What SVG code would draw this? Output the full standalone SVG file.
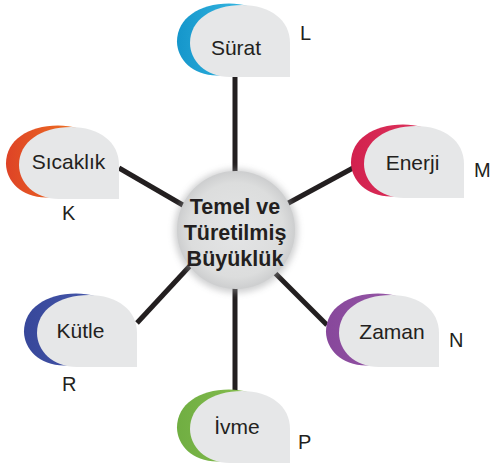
<svg xmlns="http://www.w3.org/2000/svg" width="491" height="469" viewBox="0 0 491 469">
<defs>
<style>
.conn{stroke:#231f20;stroke-width:5;fill:none}
.body{fill:#e6e7e8}
.lbl{font-family:"Liberation Sans",Arial,sans-serif;font-size:21px;fill:#231f20;text-anchor:middle}
.let{font-family:"Liberation Sans",Arial,sans-serif;font-size:20px;fill:#231f20}
.ctr{font-family:"Liberation Sans",Arial,sans-serif;font-size:21.5px;font-weight:bold;fill:#231f20;text-anchor:middle}
</style>
<path id="leaf" d="M100,72 L40,72 C15,72 0,55 0,38 C0,15 22,0 52,0 C80,0 100,15 100,38 Z"/>
<linearGradient id="gCyan" x1="0" y1="0" x2="1" y2="0"><stop offset="0" stop-color="#1596cb"/><stop offset="1" stop-color="#45c6ec"/></linearGradient>
<linearGradient id="gOrange" x1="0" y1="0" x2="1" y2="0"><stop offset="0" stop-color="#de4326"/><stop offset="1" stop-color="#f4821f"/></linearGradient>
<linearGradient id="gRed" x1="0" y1="0" x2="1" y2="0"><stop offset="0" stop-color="#d2214e"/><stop offset="1" stop-color="#e23a62"/></linearGradient>
<linearGradient id="gPurple" x1="0" y1="0" x2="1" y2="0"><stop offset="0" stop-color="#87479b"/><stop offset="1" stop-color="#9c5daa"/></linearGradient>
<linearGradient id="gGreen" x1="0" y1="0" x2="1" y2="0"><stop offset="0" stop-color="#70ae42"/><stop offset="1" stop-color="#8dc352"/></linearGradient>
<linearGradient id="gBlue" x1="0" y1="0" x2="1" y2="0"><stop offset="0" stop-color="#37479a"/><stop offset="1" stop-color="#4b5db0"/></linearGradient>
<radialGradient id="gCircle" cx="0.5" cy="0.5" r="0.5">
<stop offset="0" stop-color="#e4e5e6"/><stop offset="0.8" stop-color="#dcdddd"/><stop offset="1" stop-color="#cdcecf"/>
</radialGradient>
<filter id="blur" x="-20%" y="-20%" width="140%" height="140%"><feGaussianBlur stdDeviation="3"/></filter>
</defs>

<g id="connectors">
<line class="conn" x1="235" y1="77" x2="235" y2="230"/>
<line class="conn" x1="235" y1="393" x2="235" y2="230"/>
<line class="conn" x1="119" y1="168" x2="200" y2="215"/>
<line class="conn" x1="353" y1="168" x2="270" y2="213"/>
<line class="conn" x1="327" y1="325" x2="270" y2="268"/>
<line class="conn" x1="137" y1="323" x2="200" y2="255"/>
</g>

<g id="center">
<circle cx="236" cy="231" r="62" fill="#9a9b9d" opacity="0.45" filter="url(#blur)"/>
<circle cx="236" cy="230" r="59" fill="url(#gCircle)"/>
<text class="ctr" x="235" y="214">Temel ve</text>
<text class="ctr" x="235" y="240">Türetilmiş</text>
<text class="ctr" x="235" y="265.5">Büyüklük</text>
</g>

<g id="node-surat" transform="translate(190,5)">
<use href="#leaf" fill="url(#gCyan)" transform="translate(-13,-1.5)"/>
<use href="#leaf" class="body"/>
<text class="lbl" x="46" y="50">Sürat</text>
</g>
<text class="let" x="300" y="40">L</text>

<g id="node-sicaklik" transform="translate(19,127)">
<use href="#leaf" fill="url(#gOrange)" transform="translate(-13,-1.5)"/>
<use href="#leaf" class="body"/>
<text class="lbl" x="49.5" y="42">Sıcaklık</text>
</g>
<text class="let" x="62" y="220">K</text>

<g id="node-enerji" transform="translate(364,126)">
<use href="#leaf" fill="url(#gRed)" transform="translate(-13,-1.5)"/>
<use href="#leaf" class="body"/>
<text class="lbl" x="48.5" y="44">Enerji</text>
</g>
<text class="let" x="474" y="177">M</text>

<g id="node-zaman" transform="translate(339,295)">
<use href="#leaf" fill="url(#gPurple)" transform="translate(-13,-1.5)"/>
<use href="#leaf" class="body"/>
<text class="lbl" x="53" y="44">Zaman</text>
</g>
<text class="let" x="449" y="347">N</text>

<g id="node-ivme" transform="translate(190,391)">
<use href="#leaf" fill="url(#gGreen)" transform="translate(-13,-1.5)"/>
<use href="#leaf" class="body"/>
<text class="lbl" x="47" y="43">İvme</text>
</g>
<text class="let" x="298" y="449">P</text>

<g id="node-kutle" transform="translate(37,295)">
<use href="#leaf" fill="url(#gBlue)" transform="translate(-13,-1.5)"/>
<use href="#leaf" class="body"/>
<text class="lbl" x="43.5" y="43">Kütle</text>
</g>
<text class="let" x="62" y="391">R</text>
</svg>
